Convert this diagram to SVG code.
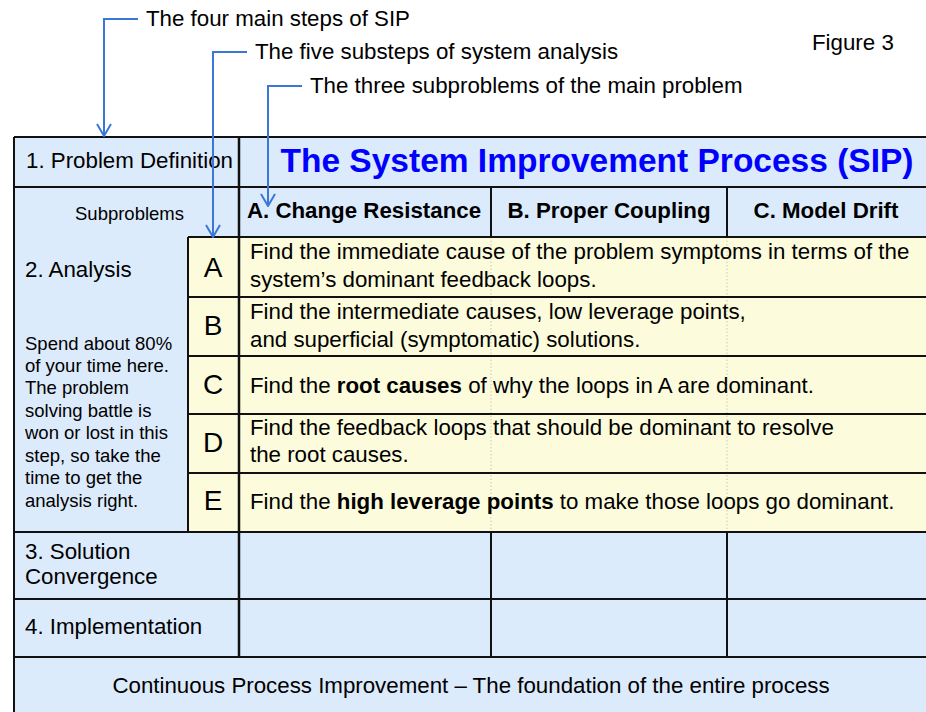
<svg xmlns="http://www.w3.org/2000/svg" width="926" height="712" viewBox="0 0 926 712">
<defs>
<style>
text{font-family:"Liberation Sans",Arial,sans-serif;fill:#000;font-size:22.3px}
.sm{font-size:18.5px}
.b{font-weight:bold}
.ttl{font-size:33.5px;font-weight:bold;fill:#0000ff}
.let{font-size:28px;text-anchor:middle}
.ln{stroke:#111;stroke-width:2;fill:none}
.thk{stroke:#111;stroke-width:2.5;fill:none}
.dot{stroke:#c9c9b4;stroke-width:1;stroke-dasharray:1.5 2;fill:none}
.blue{fill:#dcebfb}
.yel{fill:#fcfcdc}
.con{stroke:#3b78d6;stroke-width:2;fill:none}
</style>
<marker id="ah" viewBox="0 0 14 16" refX="13" refY="8" markerWidth="14" markerHeight="16" markerUnits="userSpaceOnUse" orient="auto">
<path d="M1,1 L13,8 L1,15" fill="none" stroke="#3b78d6" stroke-width="2"/>
</marker>
</defs>
<rect width="926" height="712" fill="#fff"/>

<g id="table">
<rect class="blue" x="14" y="137" width="916" height="580"/>
<rect class="yel" x="188" y="237" width="742" height="295"/>
<path class="dot" d="M491,237V532M727,237V532"/>
<path class="ln" d="M14,137H930M14,187H930M188,237H930M188,297H930M188,356H930M188,414H930M188,473H930M14,532H930M14,599H930M14,657H930"/>
<path class="ln" d="M14,137V712M188,237V532M491,187V237M727,187V237M491,532V657M727,532V657"/>
<path class="thk" d="M239,137V657"/>
</g>

<g id="step1"><text x="26" y="168">1. Problem Definition</text></g>
<g id="title"><text class="ttl" x="597" y="172" text-anchor="middle">The System Improvement Process (SIP)</text></g>
<g id="subproblems-label"><text class="sm" x="75" y="220">Subproblems</text></g>
<g id="sub-A"><text class="b" x="364" y="218" text-anchor="middle">A. Change Resistance</text></g>
<g id="sub-B"><text class="b" x="609" y="218" text-anchor="middle">B. Proper Coupling</text></g>
<g id="sub-C"><text class="b" x="826" y="218" text-anchor="middle">C. Model Drift</text></g>

<g id="step2">
<text x="25" y="277">2. Analysis</text>
<text class="sm" x="25" y="350">Spend about 80%</text>
<text class="sm" x="25" y="372">of your time here.</text>
<text class="sm" x="25" y="394">The problem</text>
<text class="sm" x="25" y="417">solving battle is</text>
<text class="sm" x="25" y="439">won or lost in this</text>
<text class="sm" x="25" y="462">step, so take the</text>
<text class="sm" x="25" y="484">time to get the</text>
<text class="sm" x="25" y="507">analysis right.</text>
</g>

<g id="substep-A">
<text class="let" x="213" y="277">A</text>
<text x="250" y="259">Find the immediate cause of the problem symptoms in terms of the</text>
<text x="250" y="287">system’s dominant feedback loops.</text>
</g>
<g id="substep-B">
<text class="let" x="213" y="335">B</text>
<text x="250" y="319">Find the intermediate causes, low leverage points,</text>
<text x="250" y="347">and superficial (symptomatic) solutions.</text>
</g>
<g id="substep-C">
<text class="let" x="213" y="394">C</text>
<text x="250" y="393">Find the <tspan class="b">root causes</tspan> of why the loops in A are dominant.</text>
</g>
<g id="substep-D">
<text class="let" x="213" y="452">D</text>
<text x="250" y="435">Find the feedback loops that should be dominant to resolve</text>
<text x="250" y="462">the root causes.</text>
</g>
<g id="substep-E">
<text class="let" x="213" y="510">E</text>
<text x="250" y="509">Find the <tspan class="b">high leverage points</tspan> to make those loops go dominant.</text>
</g>

<g id="step3">
<text x="25" y="559">3. Solution</text>
<text x="25" y="584">Convergence</text>
</g>
<g id="step4"><text x="25" y="634">4. Implementation</text></g>
<g id="foundation"><text x="471" y="693" text-anchor="middle">Continuous Process Improvement – The foundation of the entire process</text></g>

<g id="figure-label"><text x="812" y="50">Figure 3</text></g>
<g id="note-steps"><text x="146" y="26">The four main steps of SIP</text></g>
<g id="note-substeps"><text x="255" y="59">The five substeps of system analysis</text></g>
<g id="note-subproblems"><text x="310" y="93">The three subproblems of the main problem</text></g>

<g id="connectors">
<path class="con" marker-end="url(#ah)" d="M138,19H104V136"/>
<path class="con" marker-end="url(#ah)" d="M247,52H213V237"/>
<path class="con" marker-end="url(#ah)" d="M302,86H268V206"/>
</g>
</svg>
